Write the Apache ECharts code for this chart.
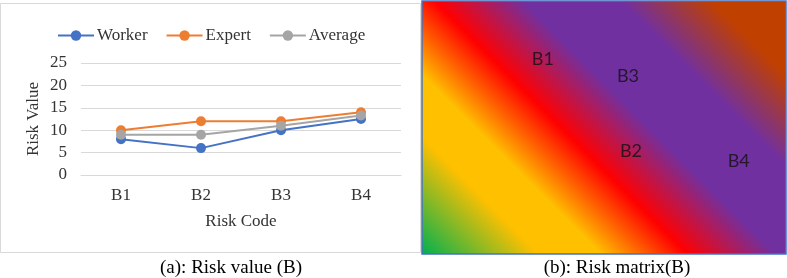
<!DOCTYPE html>
<html>
<head>
<meta charset="utf-8">
<script src="https://cdn.jsdelivr.net/npm/echarts@6/dist/echarts.min.js"></script>
<style>
  html, body { margin: 0; padding: 0; background: #fff; }
  #chart { width: 787px; height: 278px; }
</style>
</head>
<body>
<div id="chart"></div>
<script>
// (a) risk value chart
const riskCodes = ['B1', 'B2', 'B3', 'B4']
const worker = [8, 6, 10, 12.5]
const expert = [10, 12, 12, 14]
const average = [9, 9, 11, 13.3]
const yTicks = { min: 0, max: 25, interval: 5 }

// (b) risk matrix label positions (matrix units 0..5)
const matrixCodes = ['B1', 'B3', 'B2', 'B4']
const matrixX = [1.66, 2.83, 2.87, 4.35]
const matrixY = [3.85, 3.52, 2.04, 1.84]

const serif = '"Liberation Serif", "Times New Roman", serif'
const colors = ['#4472c4', '#ed7d31', '#a5a5a5']

const myChart = echarts.init(document.getElementById('chart'))

function lineSeries(name, data, i) {
    return {
        name: name,
        type: 'line',
        xAxisIndex: 0,
        yAxisIndex: 0,
        data: data,
        symbol: 'circle',
        symbolSize: 10,
        lineStyle: { width: 2, color: colors[i] },
        itemStyle: { color: colors[i] },
        z: 3 + i
    }
}

// box diagonal gradient: isolines at 45deg in pixel space
const boxW = 364, boxH = 253
const gx2 = (boxW + boxH) / (2 * boxW)
const gy2 = 1 - (boxW + boxH) / (2 * boxH)

const option = {
    animation: false,
    color: colors,
    legend: {
        left: 52,
        top: 22,
        itemWidth: 36,
        itemHeight: 13,
        itemGap: 18,
        textStyle: { fontFamily: serif, fontSize: 17, color: '#333', padding: [0, 0, 0, -2] },
        data: ['Worker', 'Expert', 'Average']
    },
    grid: [
        { left: 81, right: 386, top: 63, height: 112 },
        { left: 422, top: 1, width: boxW, height: boxH, show: true, borderColor: '#4472c4', borderWidth: 1.5, backgroundColor: 'transparent', z: 5 }
    ],
    xAxis: [
        {
            gridIndex: 0,
            type: 'category',
            data: riskCodes,
            axisTick: { show: false },
            axisLine: { lineStyle: { color: '#d9d9d9', width: 1 } },
            axisLabel: { fontFamily: serif, fontSize: 17, color: '#333', margin: 12 },
            name: 'Risk Code',
            nameLocation: 'middle',
            nameGap: 38,
            nameTextStyle: { fontFamily: serif, fontSize: 17, color: '#333' }
        },
        {
            gridIndex: 1,
            type: 'value',
            min: 0, max: 5,
            show: false
        }
    ],
    yAxis: [
        {
            gridIndex: 0,
            type: 'value',
            min: yTicks.min,
            max: yTicks.max,
            interval: yTicks.interval,
            axisLine: { show: false },
            axisTick: { show: false },
            splitLine: { lineStyle: { color: '#d9d9d9', width: 1 } },
            axisLabel: { fontFamily: serif, fontSize: 17, color: '#333', margin: 14 },
            name: 'Risk Value',
            nameLocation: 'middle',
            nameGap: 39,
            nameTextStyle: { fontFamily: serif, fontSize: 17, color: '#333' }
        },
        {
            gridIndex: 1,
            type: 'value',
            min: 0, max: 5,
            show: false
        }
    ],
    graphic: [
        {
            type: 'rect',
            z: -10,
            shape: { x: 0.5, y: 3.5, width: 420, height: 249 },
            style: { fill: 'none', stroke: '#d9d9d9', lineWidth: 1 }
        },
        {
            type: 'text',
            x: 231, y: 268,
            style: { text: '(a): Risk value (B)', font: '19px ' + serif, fill: '#000', align: 'center', verticalAlign: 'middle' }
        },
        {
            type: 'text',
            x: 617, y: 268,
            style: { text: '(b): Risk matrix(B)', font: '19px ' + serif, fill: '#000', align: 'center', verticalAlign: 'middle' }
        }
    ],
    series: [
        lineSeries('Worker', worker, 0),
        lineSeries('Expert', expert, 1),
        lineSeries('Average', average, 2),
        {
            name: 'matrix',
            type: 'scatter',
            xAxisIndex: 1,
            yAxisIndex: 1,
            symbolSize: 1,
            itemStyle: { color: 'transparent' },
            label: {
                show: true,
                position: 'inside',
                formatter: p => p.data[2],
                fontFamily: 'Lato, "Open Sans", sans-serif',
                fontSize: 18,
                color: '#111'
            },
            data: matrixX.map((x, i) => [x, matrixY[i], matrixCodes[i]]),
            markArea: {
                silent: true,
                itemStyle: {
                    color: {
                        type: 'linear',
                        x: 0, y: 1, x2: gx2, y2: gy2,
                        colorStops: [
                            { offset: 0, color: '#00b050' },
                            { offset: 0.19, color: '#ffc000' },
                            { offset: 0.29, color: '#ffc000' },
                            { offset: 0.43, color: '#ff0000' },
                            { offset: 0.575, color: '#7030a0' },
                            { offset: 0.73, color: '#7030a0' },
                            { offset: 0.88, color: '#c04000' },
                            { offset: 1, color: '#c04000' }
                        ]
                    }
                },
                data: [[{ coord: [0, 0] }, { coord: [5, 5] }]]
            }
        }
    ]
}

myChart.setOption(option)
</script>
</body>
</html>
